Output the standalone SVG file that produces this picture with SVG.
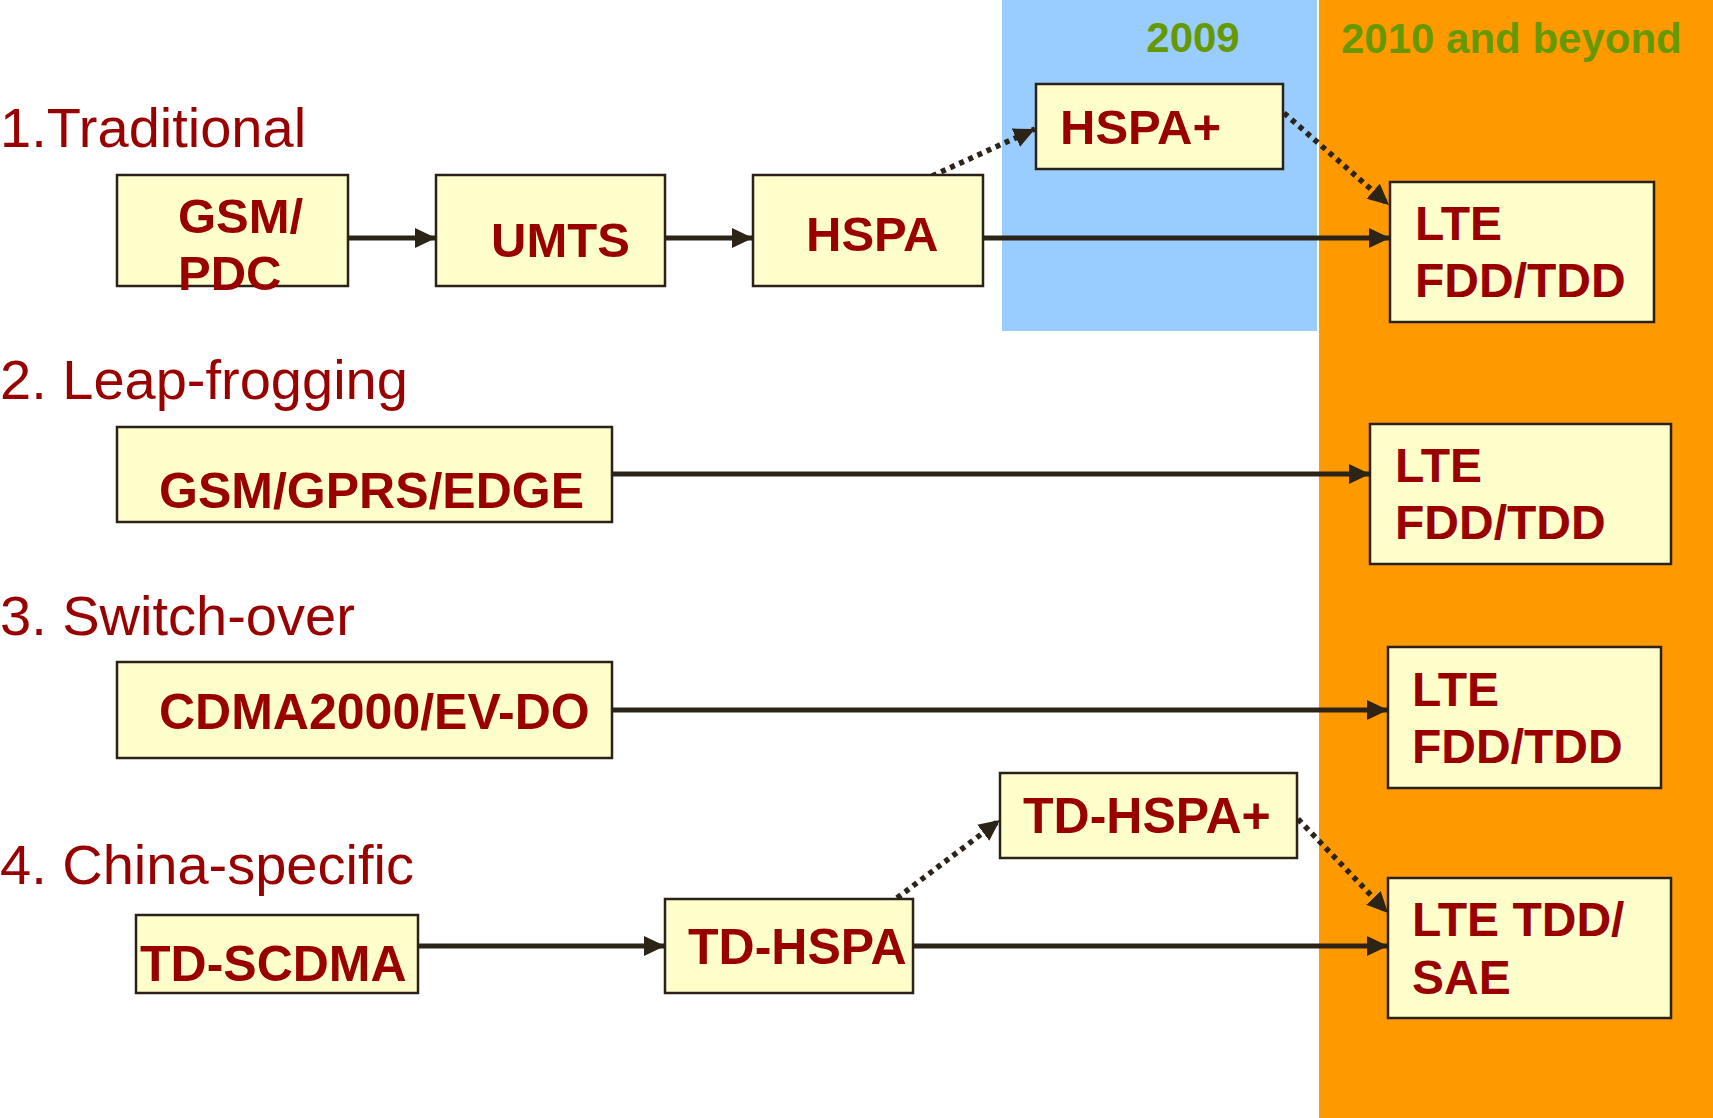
<svg xmlns="http://www.w3.org/2000/svg" width="1713" height="1118" viewBox="0 0 1713 1118">
<style>
.bg{fill:#ffffff}
.box{fill:#ffffcc;stroke:#2b2119;stroke-width:2.5}
.lbl{font-family:"Liberation Sans",Arial,sans-serif;font-weight:bold;font-size:49px;fill:#990000}
.w50{font-size:50px}
.w48{font-size:48px}
.ttl{font-family:"Liberation Sans",Arial,sans-serif;font-size:56px;fill:#990000}
.yr{font-family:"Liberation Sans",Arial,sans-serif;font-weight:bold;font-size:42px;fill:#669900}
.solid{fill:none;stroke:#2d2418;stroke-width:5;marker-end:url(#ah)}
.dot{fill:none;stroke:#2d2418;stroke-width:5.5;stroke-dasharray:5 5;marker-end:url(#ah)}
</style>
<defs>
<marker id="ah" markerUnits="userSpaceOnUse" markerWidth="24" markerHeight="22" refX="21" refY="10" orient="auto">
<path d="M0,0 L21,10 L0,20 z" fill="#2d2418"/>
</marker>
</defs>
<rect class="bg" x="0" y="0" width="1713" height="1118"/>
<g id="periods">
<rect x="1002" y="0" width="315" height="331" fill="#99ccff"/>
<rect x="1319" y="0" width="394" height="1118" fill="#ff9900"/>
<text class="yr" x="1193" y="52" text-anchor="middle">2009</text>
<text class="yr" x="1341" y="53">2010 and beyond</text>
</g>
<g id="titles">
<text class="ttl" x="0" y="147">1.Traditional</text>
<text class="ttl" x="0" y="399">2. Leap-frogging</text>
<text class="ttl" x="0" y="635">3. Switch-over</text>
<text class="ttl" x="0" y="884">4. China-specific</text>
</g>
<g id="connectors">
<line class="solid" x1="348" y1="238" x2="436" y2="238"/>
<line class="solid" x1="665" y1="238" x2="753" y2="238"/>
<line class="solid" x1="983" y1="238" x2="1390" y2="238"/>
<line class="dot" x1="932" y1="176" x2="1035" y2="129"/>
<line class="dot" x1="1284" y1="113" x2="1389" y2="205"/>
<line class="solid" x1="612" y1="474" x2="1370" y2="474"/>
<line class="solid" x1="612" y1="710" x2="1388" y2="710"/>
<line class="solid" x1="418" y1="946" x2="665" y2="946"/>
<line class="solid" x1="913" y1="946" x2="1388" y2="946"/>
<line class="dot" x1="897" y1="898" x2="1000" y2="820"/>
<line class="dot" x1="1298" y1="819" x2="1388" y2="913"/>
</g>
<g id="n-gsm-pdc"><rect class="box" x="117" y="175" width="231" height="111"/><text class="lbl" x="178" y="233">GSM/</text><text class="lbl" x="178" y="290">PDC</text></g>
<g id="n-umts"><rect class="box" x="436" y="175" width="229" height="111"/><text class="lbl" x="491" y="257">UMTS</text></g>
<g id="n-hspa"><rect class="box" x="753" y="175" width="230" height="111"/><text class="lbl" x="806" y="251">HSPA</text></g>
<g id="n-hspa-plus"><rect class="box" x="1036" y="84" width="247" height="85"/><text class="lbl" x="1060" y="144">HSPA+</text></g>
<g id="n-lte1"><rect class="box" x="1390" y="182" width="264" height="140"/><text class="lbl w48" x="1415" y="240">LTE</text><text class="lbl w48" x="1415" y="297">FDD/TDD</text></g>
<g id="n-gsm-gprs-edge"><rect class="box" x="117" y="427" width="495" height="95"/><text class="lbl w50" x="159" y="508">GSM/GPRS/EDGE</text></g>
<g id="n-lte2"><rect class="box" x="1370" y="424" width="301" height="140"/><text class="lbl w48" x="1395" y="482">LTE</text><text class="lbl w48" x="1395" y="539">FDD/TDD</text></g>
<g id="n-cdma"><rect class="box" x="117" y="662" width="495" height="96"/><text class="lbl w50" x="159" y="729">CDMA2000/EV-DO</text></g>
<g id="n-lte3"><rect class="box" x="1388" y="647" width="273" height="141"/><text class="lbl w48" x="1412" y="706">LTE</text><text class="lbl w48" x="1412" y="763">FDD/TDD</text></g>
<g id="n-td-scdma"><rect class="box" x="136" y="915" width="282" height="78"/><text class="lbl w50" x="140" y="981">TD-SCDMA</text></g>
<g id="n-td-hspa"><rect class="box" x="665" y="899" width="248" height="94"/><text class="lbl w50" x="688" y="964">TD-HSPA</text></g>
<g id="n-td-hspa-plus"><rect class="box" x="1000" y="773" width="297" height="85"/><text class="lbl w50" x="1023" y="833">TD-HSPA+</text></g>
<g id="n-lte-tdd-sae"><rect class="box" x="1388" y="878" width="283" height="140"/><text class="lbl w48" x="1412" y="936">LTE TDD/</text><text class="lbl w48" x="1412" y="994">SAE</text></g>
</svg>
